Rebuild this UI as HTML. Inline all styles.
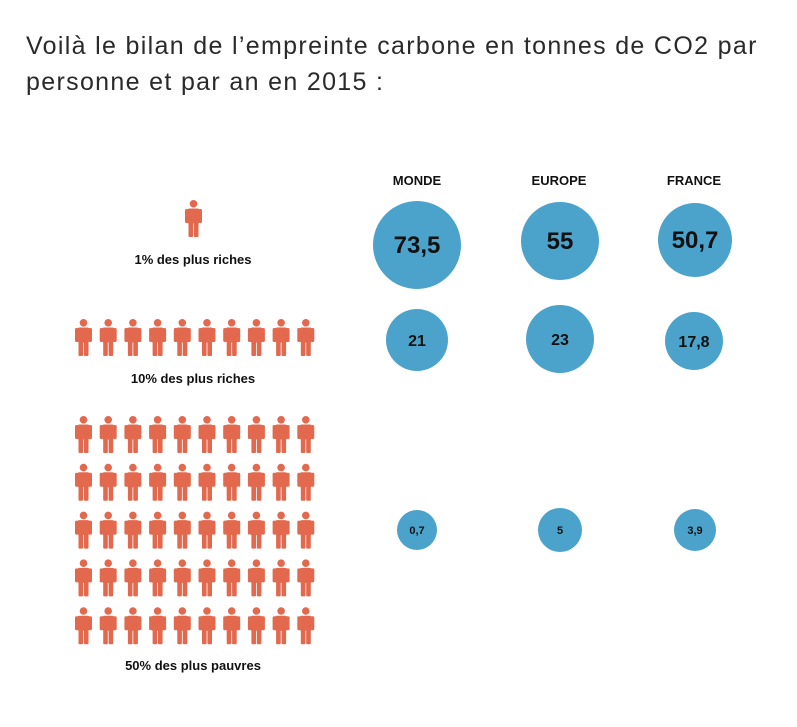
<!DOCTYPE html>
<html><head><meta charset="utf-8"><style>
body{margin:0;background:#fff;width:797px;height:727px;overflow:hidden;font-family:"Liberation Sans",sans-serif}
.t{position:absolute;left:26px;top:28px;font-size:25px;line-height:36px;color:#2a2a2a;letter-spacing:1.33px;white-space:nowrap}
</style></head><body>
<div class="t">Voilà le bilan de l’empreinte carbone en tonnes de CO2 par<br>personne et par an en 2015 :</div>
<svg id="s" width="797" height="727" style="position:absolute;left:0;top:0" font-family="Liberation Sans, sans-serif" font-weight="bold">
<defs><g id="p" fill="#e2694e">
<circle cx="8.5" cy="3.8" r="3.8"/>
<rect x="2.5" y="8.5" width="12" height="15" rx="2"/>
<rect x="0" y="9" width="3.5" height="14" rx="1.5"/>
<rect x="13.5" y="9" width="3.5" height="14" rx="1.5"/>
<rect x="3.5" y="22" width="4.6" height="15" rx="1"/>
<rect x="8.9" y="22" width="4.6" height="15" rx="1"/>
</g></defs>
<g id="people"></g>
<g font-size="13" fill="#111" text-anchor="middle">
<text x="193" y="264">1% des plus riches</text>
<text x="193" y="383">10% des plus riches</text>
<text x="193" y="670">50% des plus pauvres</text>
<text x="417" y="185">MONDE</text>
<text x="559" y="185">EUROPE</text>
<text x="694" y="185">FRANCE</text>
</g>
<g fill="#4ba3cc">
<circle cx="417" cy="245" r="44"/><circle cx="560" cy="241" r="39"/><circle cx="695" cy="240" r="37"/>
<circle cx="417" cy="340" r="31"/><circle cx="560" cy="339" r="34"/><circle cx="694" cy="341" r="29"/>
<circle cx="417" cy="530" r="20"/><circle cx="560" cy="530" r="22"/><circle cx="695" cy="530" r="21"/>
</g>
<g fill="#111" text-anchor="middle">
<text x="417" y="253" font-size="24">73,5</text>
<text x="560" y="249" font-size="24">55</text>
<text x="695" y="248" font-size="24">50,7</text>
<text x="417" y="346" font-size="16">21</text>
<text x="560" y="345" font-size="16">23</text>
<text x="694" y="347" font-size="16">17,8</text>
<text x="417" y="534" font-size="11">0,7</text>
<text x="560" y="534" font-size="11">5</text>
<text x="695" y="534" font-size="11">3,9</text>
</g>
</svg>
<script>
var g=document.getElementById('people'),h='';
function u(x,y){h+='<use href="#p" x="'+x+'" y="'+y+'"/>';}
u(185,200);
for(var i=0;i<10;i++)u(75+i*24.7,319);
for(var r=0;r<5;r++)for(var i=0;i<10;i++)u(75+i*24.7,416+r*47.8);
g.innerHTML=h;
</script>
</body></html>
